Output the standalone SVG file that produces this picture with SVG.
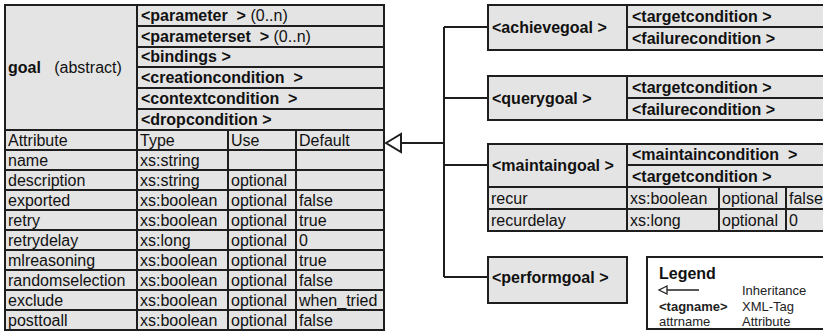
<svg xmlns="http://www.w3.org/2000/svg" width="823" height="332" viewBox="0 0 823 332">
<style>
.c{fill:#e4e4e4;stroke:#1e1e1e;stroke-width:2}
.ln{fill:none;stroke:#1e1e1e;stroke-width:2}
.t{font-family:"Liberation Sans",Arial,sans-serif;font-size:16px;fill:#111}
.b{font-weight:bold}
.lg{font-family:"Liberation Sans",Arial,sans-serif;font-size:13px;fill:#222}
</style>
<rect width="823" height="332" fill="#ffffff"/>
<g id="goal">
<rect class="c" x="5" y="5" width="132" height="125"/>
<rect class="c" x="137" y="5" width="247" height="21"/>
<rect class="c" x="137" y="26" width="247" height="21"/>
<rect class="c" x="137" y="47" width="247" height="20"/>
<rect class="c" x="137" y="67" width="247" height="21"/>
<rect class="c" x="137" y="88" width="247" height="21"/>
<rect class="c" x="137" y="109" width="247" height="21"/>
<text class="t" x="8" y="73" xml:space="preserve"><tspan class="b">goal</tspan>   (abstract)</text>
<text class="t b" x="141" y="21" xml:space="preserve">&lt;parameter  &gt; <tspan font-weight="normal">(0..n)</tspan></text>
<text class="t b" x="141" y="42" xml:space="preserve">&lt;parameterset  &gt; <tspan font-weight="normal">(0..n)</tspan></text>
<text class="t b" x="141" y="62">&lt;bindings &gt;</text>
<text class="t b" x="141" y="83" xml:space="preserve">&lt;creationcondition  &gt;</text>
<text class="t b" x="141" y="104" xml:space="preserve">&lt;contextcondition  &gt;</text>
<text class="t b" x="141" y="125">&lt;dropcondition &gt;</text>
<g id="goal-table">
<rect class="c" x="5" y="130" width="132" height="20"/><rect class="c" x="137" y="130" width="91" height="20"/><rect class="c" x="228" y="130" width="68" height="20"/><rect class="c" x="296" y="130" width="88" height="20"/>
<rect class="c" x="5" y="150" width="132" height="20"/><rect class="c" x="137" y="150" width="91" height="20"/><rect class="c" x="228" y="150" width="68" height="20"/><rect class="c" x="296" y="150" width="88" height="20"/>
<rect class="c" x="5" y="170" width="132" height="20"/><rect class="c" x="137" y="170" width="91" height="20"/><rect class="c" x="228" y="170" width="68" height="20"/><rect class="c" x="296" y="170" width="88" height="20"/>
<rect class="c" x="5" y="190" width="132" height="20"/><rect class="c" x="137" y="190" width="91" height="20"/><rect class="c" x="228" y="190" width="68" height="20"/><rect class="c" x="296" y="190" width="88" height="20"/>
<rect class="c" x="5" y="210" width="132" height="20"/><rect class="c" x="137" y="210" width="91" height="20"/><rect class="c" x="228" y="210" width="68" height="20"/><rect class="c" x="296" y="210" width="88" height="20"/>
<rect class="c" x="5" y="230" width="132" height="20"/><rect class="c" x="137" y="230" width="91" height="20"/><rect class="c" x="228" y="230" width="68" height="20"/><rect class="c" x="296" y="230" width="88" height="20"/>
<rect class="c" x="5" y="250" width="132" height="20"/><rect class="c" x="137" y="250" width="91" height="20"/><rect class="c" x="228" y="250" width="68" height="20"/><rect class="c" x="296" y="250" width="88" height="20"/>
<rect class="c" x="5" y="270" width="132" height="20"/><rect class="c" x="137" y="270" width="91" height="20"/><rect class="c" x="228" y="270" width="68" height="20"/><rect class="c" x="296" y="270" width="88" height="20"/>
<rect class="c" x="5" y="290" width="132" height="20"/><rect class="c" x="137" y="290" width="91" height="20"/><rect class="c" x="228" y="290" width="68" height="20"/><rect class="c" x="296" y="290" width="88" height="20"/>
<rect class="c" x="5" y="310" width="132" height="20"/><rect class="c" x="137" y="310" width="91" height="20"/><rect class="c" x="228" y="310" width="68" height="20"/><rect class="c" x="296" y="310" width="88" height="20"/>
<text class="t" x="8" y="146">Attribute</text><text class="t" x="140" y="146">Type</text><text class="t" x="231" y="146">Use</text><text class="t" x="299" y="146">Default</text>
<text class="t" x="8" y="166">name</text><text class="t" x="140" y="166">xs:string</text>
<text class="t" x="8" y="186">description</text><text class="t" x="140" y="186">xs:string</text><text class="t" x="231" y="186">optional</text>
<text class="t" x="8" y="206">exported</text><text class="t" x="140" y="206">xs:boolean</text><text class="t" x="231" y="206">optional</text><text class="t" x="299" y="206">false</text>
<text class="t" x="8" y="226">retry</text><text class="t" x="140" y="226">xs:boolean</text><text class="t" x="231" y="226">optional</text><text class="t" x="299" y="226">true</text>
<text class="t" x="8" y="246">retrydelay</text><text class="t" x="140" y="246">xs:long</text><text class="t" x="231" y="246">optional</text><text class="t" x="299" y="246">0</text>
<text class="t" x="8" y="266">mlreasoning</text><text class="t" x="140" y="266">xs:boolean</text><text class="t" x="231" y="266">optional</text><text class="t" x="299" y="266">true</text>
<text class="t" x="8" y="286">randomselection</text><text class="t" x="140" y="286">xs:boolean</text><text class="t" x="231" y="286">optional</text><text class="t" x="299" y="286">false</text>
<text class="t" x="8" y="306">exclude</text><text class="t" x="140" y="306">xs:boolean</text><text class="t" x="231" y="306">optional</text><text class="t" x="299" y="306">when_tried</text>
<text class="t" x="8" y="326">posttoall</text><text class="t" x="140" y="326">xs:boolean</text><text class="t" x="231" y="326">optional</text><text class="t" x="299" y="326">false</text>
</g>
</g>
<g id="connectors">
<path class="ln" d="M401 143 H444 M444 27 V277 M444 27 H488 M444 98 H488 M444 165 H488 M444 277 H488"/>
<polygon points="386,143 401,134 401,152" fill="#ffffff" stroke="#1e1e1e" stroke-width="2"/>
</g>
<g id="achievegoal">
<rect class="c" x="488" y="5" width="139" height="45"/>
<rect class="c" x="627" y="5" width="210" height="22"/>
<rect class="c" x="627" y="27" width="210" height="23"/>
<text class="t b" x="492" y="33">&lt;achievegoal &gt;</text>
<text class="t b" x="632" y="22">&lt;targetcondition &gt;</text>
<text class="t b" x="632" y="44">&lt;failurecondition &gt;</text>
</g>
<g id="querygoal">
<rect class="c" x="488" y="76" width="139" height="44"/>
<rect class="c" x="627" y="76" width="210" height="22"/>
<rect class="c" x="627" y="98" width="210" height="22"/>
<text class="t b" x="492" y="104">&lt;querygoal &gt;</text>
<text class="t b" x="632" y="93">&lt;targetcondition &gt;</text>
<text class="t b" x="632" y="115">&lt;failurecondition &gt;</text>
</g>
<g id="maintaingoal">
<rect class="c" x="488" y="144" width="139" height="43"/>
<rect class="c" x="627" y="144" width="210" height="21"/>
<rect class="c" x="627" y="165" width="210" height="22"/>
<rect class="c" x="488" y="187" width="139" height="22"/><rect class="c" x="627" y="187" width="92" height="22"/><rect class="c" x="719" y="187" width="67" height="22"/><rect class="c" x="786" y="187" width="51" height="22"/>
<rect class="c" x="488" y="209" width="139" height="22"/><rect class="c" x="627" y="209" width="92" height="22"/><rect class="c" x="719" y="209" width="67" height="22"/><rect class="c" x="786" y="209" width="51" height="22"/>
<text class="t b" x="492" y="171">&lt;maintaingoal &gt;</text>
<text class="t b" x="632" y="160" xml:space="preserve">&lt;maintaincondition  &gt;</text>
<text class="t b" x="632" y="182">&lt;targetcondition &gt;</text>
<text class="t" x="491" y="204">recur</text><text class="t" x="630" y="204">xs:boolean</text><text class="t" x="722" y="204">optional</text><text class="t" x="789" y="204">false</text>
<text class="t" x="491" y="226">recurdelay</text><text class="t" x="630" y="226">xs:long</text><text class="t" x="722" y="226">optional</text><text class="t" x="789" y="226">0</text>
</g>
<g id="performgoal">
<rect class="c" x="488" y="257" width="139" height="46"/>
<text class="t b" x="492" y="283">&lt;performgoal &gt;</text>
</g>
<g id="legend">
<rect x="647" y="257" width="190" height="72" fill="#ffffff" stroke="#1e1e1e" stroke-width="2"/>
<text x="659" y="279" font-family="Liberation Sans, Arial, sans-serif" font-size="16" font-weight="bold" fill="#111">Legend</text>
<path d="M667 286 L659 290 L667 294 Z M667 290 H699" fill="none" stroke="#222" stroke-width="1.3"/>
<text class="lg" x="742" y="295">Inheritance</text>
<text class="lg b" x="659" y="311" font-size="11.5">&lt;tagname&gt;</text>
<text class="lg" x="742" y="311">XML-Tag</text>
<text class="lg" x="659" y="326">attrname</text>
<text class="lg" x="742" y="326">Attribute</text>
</g>
</svg>
